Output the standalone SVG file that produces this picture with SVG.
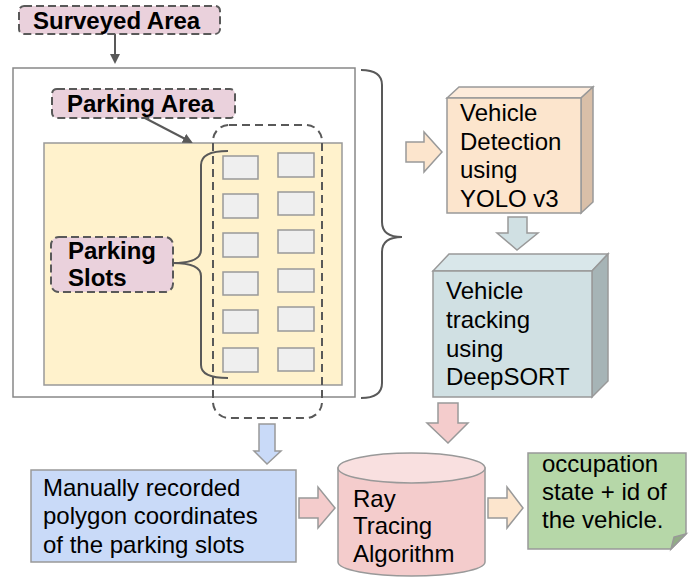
<svg xmlns="http://www.w3.org/2000/svg" width="699" height="578" viewBox="0 0 699 578">
<defs>
<style>
text{font-family:"Liberation Sans",Arial,sans-serif;font-size:24px;fill:#000}
.b{font-weight:bold}
.lbl{fill:#ead1dc;stroke:#595959;stroke-width:2;stroke-dasharray:8,4}
.slot{fill:#efefef;stroke:#999;stroke-width:1.5}
.ln{fill:none;stroke:#595959;stroke-width:2}
.ed{stroke:#999;stroke-width:1.5}
</style>
<marker id="ah" markerWidth="10" markerHeight="10" refX="8" refY="5" orient="auto" markerUnits="userSpaceOnUse">
<path d="M0,0 L10,5 L0,10 Z" fill="#595959"/>
</marker>
</defs>
<rect width="699" height="578" fill="#fff"/>

<g id="surveyed-frame">
<rect x="13" y="68" width="342" height="329" fill="#fff" stroke="#888" stroke-width="1.5"/>
</g>
<g id="parking-area">
<rect x="44" y="143" width="298" height="242" fill="#fff2cc" class="ed"/>
</g>
<g id="slots">
<rect class="slot" x="223" y="156" width="35" height="23"/>
<rect class="slot" x="223" y="194" width="35" height="24"/>
<rect class="slot" x="223" y="233" width="35" height="24"/>
<rect class="slot" x="223" y="272" width="35" height="23"/>
<rect class="slot" x="223" y="310" width="35" height="23"/>
<rect class="slot" x="223" y="348" width="35" height="24"/>
<rect class="slot" x="278" y="153" width="36" height="24"/>
<rect class="slot" x="278" y="192" width="36" height="23"/>
<rect class="slot" x="278" y="230" width="36" height="23"/>
<rect class="slot" x="278" y="269" width="36" height="23"/>
<rect class="slot" x="278" y="307" width="36" height="24"/>
<rect class="slot" x="278" y="348" width="36" height="23"/>
</g>
<g id="slot-selection">
<rect x="213" y="125" width="109" height="293" rx="16" fill="none" stroke="#595959" stroke-width="2" stroke-dasharray="8,5"/>
</g>

<g id="connectors">
<line class="ln" x1="115" y1="34" x2="115" y2="62" marker-end="url(#ah)"/>
<line class="ln" x1="143" y1="117" x2="191" y2="142" marker-end="url(#ah)"/>
<path class="ln" d="M228,151 Q201,151 201,165 L201,250 Q201,263 173,263 Q201,263 201,276 L201,365 Q201,378 228,378"/>
<path class="ln" d="M361,70 Q382,70 382,85 L382,222 Q382,237 402,237 Q382,237 382,252 L382,383 Q382,398 361,398"/>
<polygon points="406,142 424,142 424,132 442,152 424,172 424,162 406,162" fill="#fce5cd" class="ed"/>
<polygon points="508,217 527,217 527,233 538,233 517,250 497,233 508,233" fill="#d0e0e3" class="ed"/>
<polygon points="438,403 458,403 458,423 468,423 448,443 427,423 438,423" fill="#f4cccc" class="ed"/>
<polygon points="259,424 275,424 275,451 281,451 267,464 254,451 259,451" fill="#c9daf8" class="ed"/>
<polygon points="299,498 318,498 318,487 335,508 318,528 318,518 299,518" fill="#f4cccc" class="ed"/>
<polygon points="488,498 507,498 507,487 523,508 507,528 507,518 488,518" fill="#fce5cd" class="ed"/>
</g>

<g id="surveyed-area-label">
<rect class="lbl" x="19" y="6" width="201" height="28" rx="5"/>
<text class="b" x="33" y="29">Surveyed Area</text>
</g>
<g id="parking-area-label">
<rect class="lbl" x="52" y="89" width="183" height="29" rx="5"/>
<text class="b" x="67" y="112">Parking Area</text>
</g>
<g id="parking-slots-label">
<rect class="lbl" x="51" y="237" width="122" height="55" rx="8"/>
<text class="b" x="68" y="259">Parking</text>
<text class="b" x="68" y="286">Slots</text>
</g>

<g id="vehicle-detection">
<polygon points="447,98 459,87 593,87 581,98" fill="#fdebdb" class="ed"/>
<polygon points="581,98 593,87 593,202 581,213" fill="#d9bfa8" class="ed"/>
<rect x="447" y="98" width="134" height="115" fill="#fce5cd" class="ed"/>
<text x="460" y="121">Vehicle</text>
<text x="460" y="150">Detection</text>
<text x="460" y="178">using</text>
<text x="460" y="207">YOLO v3</text>
</g>

<g id="vehicle-tracking">
<polygon points="433,271 449,254 608,254 592,271" fill="#d9e7ea" class="ed"/>
<polygon points="592,271 608,254 608,381 592,397" fill="#a6b4b6" class="ed"/>
<rect x="433" y="271" width="159" height="126" fill="#d0e0e3" class="ed"/>
<text x="446" y="299">Vehicle</text>
<text x="446" y="328">tracking</text>
<text x="446" y="357">using</text>
<text x="446" y="385">DeepSORT</text>
</g>

<g id="manual-coordinates">
<rect x="31" y="470" width="265" height="92" fill="#c9daf8" class="ed"/>
<text x="43" y="496">Manually recorded</text>
<text x="43" y="524">polygon coordinates</text>
<text x="43" y="553">of the parking slots</text>
</g>

<g id="ray-tracing">
<path d="M338,468 L338,562 A73.5,14 0 0 0 485,562 L485,468 Z" fill="#f4cccc" class="ed"/>
<ellipse cx="411.5" cy="468" rx="73.5" ry="15" fill="#f9e0e0" class="ed"/>
<text x="353" y="507">Ray</text>
<text x="353" y="534">Tracing</text>
<text x="353" y="562">Algorithm</text>
</g>

<g id="output-note">
<path d="M528,453 L686,453 L686,534 L671,549 L528,549 Z" fill="#b6d7a8" class="ed"/>
<path d="M686,534 L671,549 L674,537 Z" fill="#92ac86" class="ed"/>
<text x="542" y="472">occupation</text>
<text x="542" y="500">state + id of</text>
<text x="542" y="528">the vehicle.</text>
</g>
</svg>
